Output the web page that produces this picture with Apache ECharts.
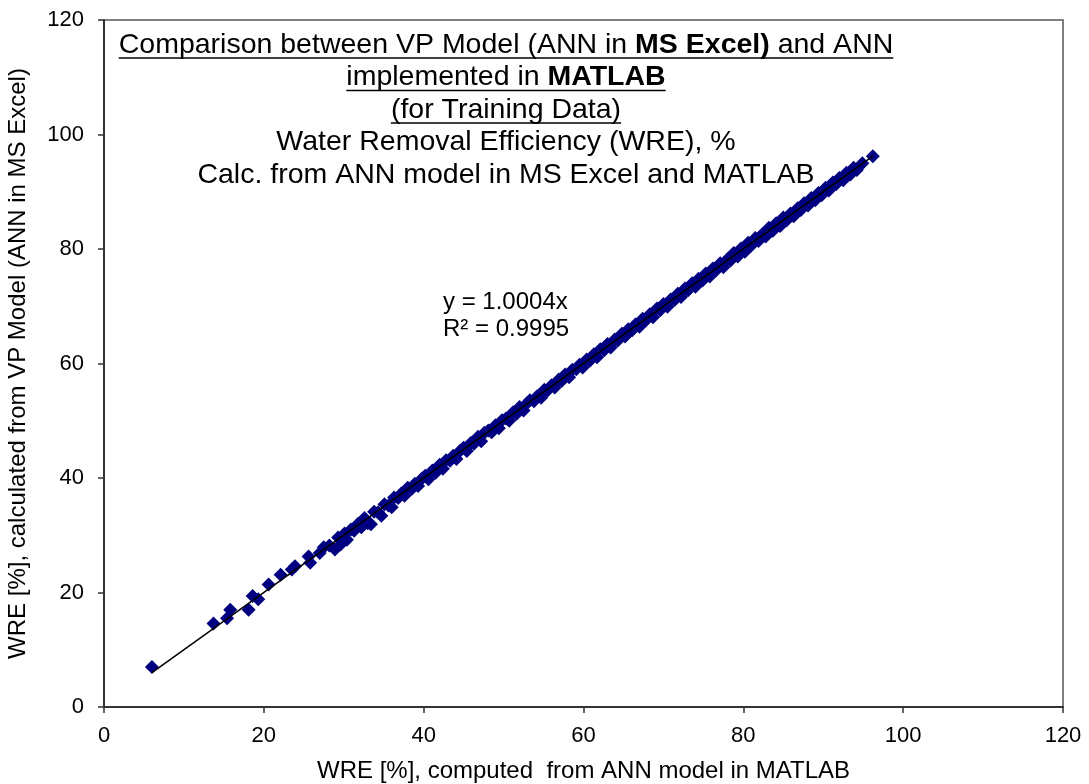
<!DOCTYPE html>
<html>
<head>
<meta charset="utf-8">
<script src="https://cdn.jsdelivr.net/npm/echarts@6/dist/echarts.min.js"></script>
<style>
  html, body { margin: 0; padding: 0; background: #fff; }
  #chart { width: 1089px; height: 784px; }
</style>
</head>
<body>
<div id="chart"></div>
<script>
// WRE from ANN in MATLAB (x) vs VP model / ANN in MS Excel (y), training data
const wreMatlab = [
  6.0, 13.7, 15.4, 15.8, 18.1, 18.6, 19.3, 20.6, 22.1, 23.5, 23.9, 25.8, 25.6, 27.0, 27.5, 28.2,
  28.9, 29.3, 29.6, 30.1, 30.4, 30.9, 31.3, 31.8, 32.2, 32.6, 33.0, 33.4, 33.8, 34.3, 34.7, 35.1,
  35.6, 36.0, 36.3, 36.8, 37.2, 37.6, 38.0, 38.5, 38.9, 39.3, 39.8, 40.2, 40.6, 41.1, 41.5, 42.0,
  42.4, 42.8, 43.3, 43.7, 44.1, 44.6, 45.0, 45.4, 45.9, 46.3, 46.8, 47.2, 47.6, 48.1, 48.5, 49.0,
  49.4, 49.8, 50.3, 50.7, 51.2, 51.6, 52.0, 52.5, 52.9, 53.3, 53.8, 54.2, 54.7, 55.1, 55.5, 56.0,
  56.4, 56.9, 57.3, 57.7, 58.2, 58.6, 59.1, 59.5, 59.9, 60.4, 60.8, 61.3, 61.7, 62.1, 62.6, 63.0,
  63.4, 63.9, 64.3, 64.8, 65.2, 65.6, 66.1, 66.5, 67.0, 67.4, 67.8, 68.3, 68.7, 69.2, 69.6, 70.0,
  70.5, 70.9, 71.4, 71.8, 72.2, 72.7, 73.1, 73.6, 74.0, 74.4, 74.9, 75.3, 75.8, 76.2, 76.6, 77.1,
  77.5, 78.0, 78.4, 78.8, 79.3, 79.7, 80.2, 80.6, 81.0, 81.5, 81.9, 82.4, 82.8, 83.2, 83.7, 84.1,
  84.6, 85.0, 85.4, 85.9, 86.3, 86.8, 87.2, 87.6, 88.1, 88.5, 89.0, 89.4, 89.8, 90.3, 90.7, 91.2,
  91.6, 92.0, 92.5, 92.9, 93.4, 93.8, 94.2, 94.9, 96.2
];
const wreExcel = [
  7.0, 14.6, 15.5, 17.0, 17.0, 19.4, 18.8, 21.4, 23.1, 24.0, 24.6, 25.2, 26.3, 26.9, 27.9, 28.2,
  27.5, 29.6, 28.4, 30.3, 29.2, 31.0, 30.8, 32.0, 31.4, 33.0, 32.1, 31.9, 34.1, 34.0, 33.4, 35.4,
  35.2, 34.9, 36.6, 36.5, 37.3, 36.9, 38.3, 38.1, 39.0, 38.6, 39.9, 40.4, 39.8, 41.3, 40.9, 42.3,
  41.6, 43.1, 43.0, 43.9, 43.3, 44.8, 45.3, 44.7, 46.1, 46.0, 47.2, 46.4, 47.9, 48.3, 48.0, 49.2,
  48.7, 50.1, 50.4, 50.0, 51.5, 51.2, 52.4, 51.8, 53.0, 53.6, 53.4, 54.3, 54.0, 55.4, 55.3, 56.2,
  55.8, 57.2, 57.0, 58.1, 57.6, 58.9, 59.0, 59.8, 59.3, 60.7, 60.5, 61.6, 61.1, 62.5, 62.3, 63.4,
  62.8, 64.2, 64.0, 65.2, 64.7, 66.0, 65.8, 66.8, 66.4, 67.8, 67.5, 68.6, 68.1, 69.6, 69.3, 70.4,
  69.9, 71.2, 71.1, 72.2, 71.6, 73.1, 72.8, 74.0, 73.4, 74.8, 74.5, 75.7, 75.2, 76.6, 76.3, 77.5,
  76.8, 78.2, 78.0, 79.3, 78.7, 80.1, 79.5, 81.1, 80.6, 81.9, 81.4, 82.6, 82.2, 83.7, 83.2, 84.5,
  84.0, 85.5, 85.0, 86.2, 85.7, 87.1, 86.8, 88.0, 87.6, 88.9, 88.5, 89.8, 89.4, 90.7, 90.2, 91.6,
  91.3, 92.4, 92.0, 93.3, 93.0, 94.2, 93.8, 95.0, 96.2
];
// linear trend line through origin, y = 1.0004x
const trendX = [6.0, 96.2];
const trendY = [6.0, 96.24];
const trendLabel = ['y = 1.0004x', 'R\u00b2 = 0.9995'];
const axisTicks = { min: 0, max: 120, interval: 20 };

const FONT = "'Liberation Sans', Arial, sans-serif";
const TITLE_SIZE = 28.5;
const TITLE_CX = 506;

// title lines: [normal, bold, normal]
const titleLines = [
  { parts: ['Comparison between VP Model (ANN in ', 'MS Excel)', ' and ANN'], underline: true, y: 45 },
  { parts: ['implemented in ', 'MATLAB', ''], underline: true, y: 77.5 },
  { parts: ['(for Training Data)', '', ''], underline: true, y: 110 },
  { parts: ['Water Removal Efficiency (WRE), %', '', ''], underline: false, y: 142.5 },
  { parts: ['Calc. from ANN model in MS Excel and MATLAB', '', ''], underline: false, y: 175 }
];

const measure = document.createElement('canvas').getContext('2d');
function textWidth(str, bold) {
  measure.font = (bold ? 'bold ' : '') + TITLE_SIZE + 'px ' + FONT;
  return measure.measureText(str).width;
}

const graphics = [];
titleLines.forEach(line => {
  let rich = '';
  if (line.parts[0]) rich += '{n|' + line.parts[0] + '}';
  if (line.parts[1]) rich += '{b|' + line.parts[1] + '}';
  if (line.parts[2]) rich += '{n|' + line.parts[2] + '}';
  graphics.push({
    type: 'text',
    x: TITLE_CX,
    y: line.y,
    style: {
      text: rich,
      align: 'center',
      verticalAlign: 'middle',
      rich: {
        n: { fontFamily: FONT, fontSize: TITLE_SIZE, fill: '#000' },
        b: { fontFamily: FONT, fontSize: TITLE_SIZE, fontWeight: 'bold', fill: '#000' }
      }
    }
  });
  if (line.underline) {
    const w = textWidth(line.parts[0], false) + textWidth(line.parts[1], true) + textWidth(line.parts[2], false);
    graphics.push({
      type: 'line',
      shape: { x1: TITLE_CX - w / 2, y1: line.y + 13, x2: TITLE_CX + w / 2, y2: line.y + 13 },
      style: { stroke: '#000', lineWidth: 1.5 }
    });
  }
});

graphics.push({
  type: 'text',
  x: 443,
  y: 316,
  style: {
    text: trendLabel.join('\n'),
    align: 'left',
    verticalAlign: 'middle',
    fontFamily: FONT,
    fontSize: 24,
    lineHeight: 27,
    fill: '#000'
  }
});

const chart = echarts.init(document.getElementById('chart'), null, { renderer: 'canvas' });

const axisCommon = {
  type: 'value',
  min: axisTicks.min,
  max: axisTicks.max,
  interval: axisTicks.interval,
  nameLocation: 'middle',
  nameTextStyle: { fontFamily: FONT, fontSize: 24, color: '#000' },
  axisLine: { show: true, onZero: false, lineStyle: { color: '#333', width: 2 } },
  axisTick: { show: true, inside: false, length: 6, lineStyle: { color: '#333', width: 1.5 } },
  axisLabel: { fontFamily: FONT, fontSize: 22, color: '#000' },
  splitLine: { show: false }
};

chart.setOption({
  animation: false,
  backgroundColor: '#fff',
  grid: {
    left: 104,
    right: 26,
    top: 20,
    bottom: 77,
    show: true,
    borderColor: '#808080',
    borderWidth: 2,
    containLabel: false,
    outerBoundsMode: 'none'
  },
  xAxis: Object.assign({}, axisCommon, {
    name: 'WRE [%], computed  from ANN model in MATLAB',
    nameGap: 52,
    axisLabel: Object.assign({}, axisCommon.axisLabel, { margin: 18 })
  }),
  yAxis: Object.assign({}, axisCommon, {
    name: 'WRE [%], calculated from VP Model (ANN in MS Excel)',
    nameGap: 74,
    axisLabel: Object.assign({}, axisCommon.axisLabel, { margin: 20 })
  }),
  series: [
    {
      type: 'scatter',
      symbol: 'diamond',
      symbolSize: 14,
      itemStyle: { color: '#000080', opacity: 1 },
      data: wreMatlab.map((x, i) => [x, wreExcel[i]]),
      z: 2
    },
    {
      type: 'line',
      symbol: 'none',
      lineStyle: { color: '#000', width: 1.5 },
      data: trendX.map((x, i) => [x, trendY[i]]),
      z: 3
    }
  ],
  graphic: graphics
});
</script>
</body>
</html>
